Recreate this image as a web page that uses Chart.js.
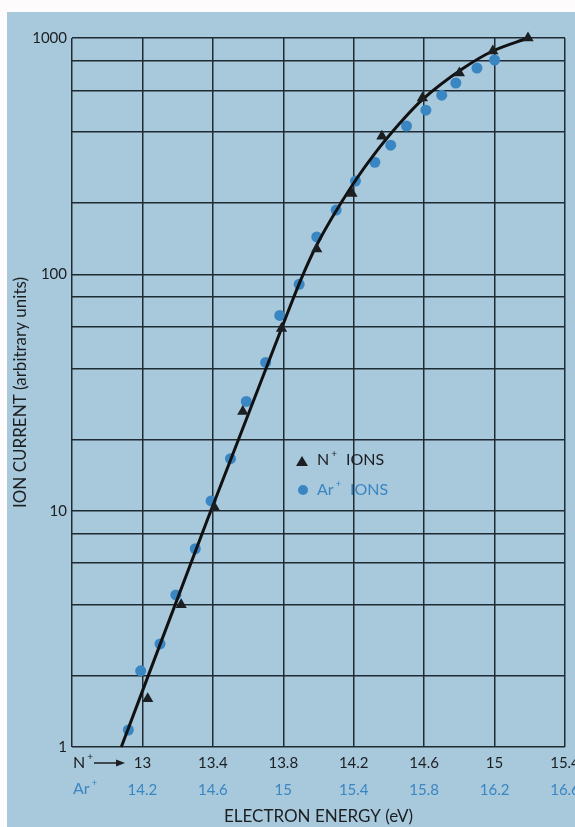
<!DOCTYPE html>
<html>
<head>
<meta charset="utf-8">
<script src="https://cdn.jsdelivr.net/npm/chart.js@4"></script>
<style>
  html, body { margin: 0; padding: 0; background: #fff; }
  canvas { display: block; }
</style>
</head>
<body>
<canvas id="chart" width="575" height="827"></canvas>
<script>
// N+ ions (triangles), energy on the N+ scale
const nEnergy  = [13.03, 13.22, 13.41, 13.57, 13.79, 13.99, 14.19, 14.36, 14.59, 14.80, 14.99, 15.19];
const nCurrent = [1.6, 4.0, 10.3, 26.3, 59, 128, 220, 384, 557, 711, 881, 1000];

// Ar+ ions (circles), energy on the Ar+ scale
const arEnergy  = [14.12, 14.19, 14.30, 14.39, 14.50, 14.59, 14.70, 14.79, 14.90, 14.98, 15.09,
                   15.19, 15.30, 15.41, 15.52, 15.61, 15.70, 15.81, 15.90, 15.98, 16.10, 16.20];
const arCurrent = [1.18, 2.1, 2.73, 4.4, 6.9, 11.0, 16.6, 29, 42.4, 67, 90.7,
                   144, 187, 248, 298, 352, 424, 495, 573, 645, 746, 807];

// hand drawn curve (N+ scale)
const curveEnergy  = [12.88, 13.37, 13.79, 13.90, 13.99, 14.19, 14.35, 14.50, 14.59, 14.82, 14.99, 15.19];
const curveCurrent = [1, 9.2, 59, 95, 133, 237, 347, 469, 549, 743, 881, 1000];

// axes
const nTicks   = [12.6, 13, 13.4, 13.8, 14.2, 14.6, 15, 15.4];
const nLabels  = ['', '13', '13.4', '13.8', '14.2', '14.6', '15', '15.4'];
const arTicks  = [13.8, 14.2, 14.6, 15, 15.4, 15.8, 16.2, 16.6];
const arLabels = ['', '14.2', '14.6', '15', '15.4', '15.8', '16.2', '16.6'];
const yTicks   = [1, 2, 4, 6, 8, 10, 20, 40, 60, 80, 100, 200, 400, 600, 800, 1000];
const yLabels  = [1, 10, 100, 1000];

const BG    = '#a8c8dc';
const INK   = '#1b1f22';
const BLUE  = '#3a86c2';
const GRID  = '#1f2b33';
const FONT  = 'Lato, "DejaVu Sans", sans-serif';

const toPts = (xs, ys) => xs.map((x, i) => ({ x, y: ys[i] }));

// "N" + small raised "+" + rest, rest starts at restX
function supText(ctx, base, rest, x, y, size, restX) {
  ctx.font = size + 'px ' + FONT;
  ctx.fillText(base, x, y);
  const w = ctx.measureText(base).width;
  ctx.font = Math.round(size * 0.6) + 'px ' + FONT;
  ctx.fillText('+', x + w + 2, y - size * 0.38);
  ctx.font = size + 'px ' + FONT;
  if (rest) ctx.fillText(rest, restX, y);
}

const decor = {
  id: 'decor',
  beforeDraw(chart) {
    const ctx = chart.ctx;
    ctx.save();
    ctx.fillStyle = '#fdfbfc';
    ctx.fillRect(0, 0, chart.width, chart.height);
    ctx.fillStyle = BG;
    ctx.fillRect(7, 12, chart.width - 7, chart.height - 12);
    ctx.restore();
  },
  afterDraw(chart) {
    const ctx = chart.ctx;
    const { left } = chart.chartArea;
    ctx.save();
    ctx.textBaseline = 'middle';
    ctx.textAlign = 'left';

    // N+ arrow and Ar+ row captions
    ctx.fillStyle = INK;
    supText(ctx, 'N', '', left + 1, 763, 16);
    ctx.strokeStyle = INK;
    ctx.lineWidth = 1.5;
    ctx.beginPath();
    ctx.moveTo(left + 22, 763);
    ctx.lineTo(left + 46, 763);
    ctx.stroke();
    ctx.beginPath();
    ctx.moveTo(left + 53, 763);
    ctx.lineTo(left + 44, 759.5);
    ctx.lineTo(left + 44, 766.5);
    ctx.closePath();
    ctx.fill();
    ctx.fillStyle = BLUE;
    supText(ctx, 'Ar', '', left + 1, 789, 16);

    // legend
    ctx.fillStyle = INK;
    ctx.beginPath();
    ctx.moveTo(302, 456);
    ctx.lineTo(308, 466);
    ctx.lineTo(296, 466);
    ctx.closePath();
    ctx.fill();
    supText(ctx, 'N', 'IONS', 317, 460, 16, 346);
    ctx.fillStyle = BLUE;
    ctx.beginPath();
    ctx.arc(303, 490, 5, 0, Math.PI * 2);
    ctx.fill();
    supText(ctx, 'Ar', 'IONS', 317, 490, 16, 350);
    ctx.restore();
  }
};

const ctx = document.getElementById('chart').getContext('2d');
new Chart(ctx, {
  type: 'scatter',
  data: {
    datasets: [
      {
        label: 'N+ IONS',
        data: toPts(nEnergy, nCurrent),
        xAxisID: 'x',
        pointStyle: 'triangle',
        pointRadius: 6.5,
        backgroundColor: INK,
        borderWidth: 0,
        clip: false,
        order: 0
      },
      {
        label: 'curve',
        data: toPts(curveEnergy, curveCurrent),
        xAxisID: 'x',
        showLine: true,
        pointRadius: 0,
        borderColor: '#111',
        borderWidth: 3,
        cubicInterpolationMode: 'monotone',
        clip: false,
        order: 1
      },
      {
        label: 'Ar+ IONS',
        data: toPts(arEnergy, arCurrent),
        xAxisID: 'x2',
        pointStyle: 'circle',
        pointRadius: 5.5,
        backgroundColor: BLUE,
        borderWidth: 0,
        order: 2
      }
    ]
  },
  options: {
    responsive: false,
    animation: false,
    devicePixelRatio: 1,
    layout: { padding: { left: 0, right: 10, top: 38, bottom: 0 } },
    plugins: {
      legend: { display: false },
      tooltip: { enabled: false }
    },
    scales: {
      x: {
        type: 'linear',
        position: 'bottom',
        min: 12.6,
        max: 15.4,
        afterBuildTicks: s => { s.ticks = nTicks.map(v => ({ value: v })); },
        afterFit: s => { s.height = 27; s.paddingLeft = 0; s.paddingRight = 0; },
        grid: { color: GRID, lineWidth: 1.5, drawTicks: false },
        border: { display: false },
        ticks: {
          autoSkip: false,
          maxRotation: 0,
          padding: 7,
          color: INK,
          font: { family: FONT, size: 15 },
          callback: (v, i) => nLabels[i]
        }
      },
      x2: {
        type: 'linear',
        position: 'bottom',
        min: 13.8,
        max: 16.6,
        afterBuildTicks: s => { s.ticks = arTicks.map(v => ({ value: v })); },
        afterFit: s => { s.height = 53; s.paddingLeft = 0; s.paddingRight = 0; },
        grid: { display: false, drawTicks: false },
        border: { display: false },
        ticks: {
          autoSkip: false,
          maxRotation: 0,
          padding: 7,
          color: BLUE,
          font: { family: FONT, size: 15 },
          callback: (v, i) => arLabels[i]
        },
        title: {
          display: true,
          text: 'ELECTRON ENERGY (eV)',
          color: INK,
          padding: { top: 0, bottom: 0 },
          font: { family: FONT, size: 17 }
        }
      },
      y: {
        type: 'logarithmic',
        min: 1,
        max: 1000,
        afterBuildTicks: s => { s.ticks = yTicks.map(v => ({ value: v })); },
        afterFit: s => { s.width = 72; s.paddingTop = 0; s.paddingBottom = 0; },
        grid: { color: GRID, lineWidth: 1.5, drawTicks: false },
        border: { display: false },
        ticks: {
          autoSkip: false,
          padding: 5,
          color: INK,
          font: { family: FONT, size: 15 },
          callback: v => yLabels.includes(v) ? String(v) : ''
        },
        title: {
          display: true,
          text: 'ION CURRENT (arbitrary units)',
          color: INK,
          padding: { top: 10, bottom: 0 },
          font: { family: FONT, size: 17 }
        }
      }
    }
  },
  plugins: [decor]
});
</script>
</body>
</html>
